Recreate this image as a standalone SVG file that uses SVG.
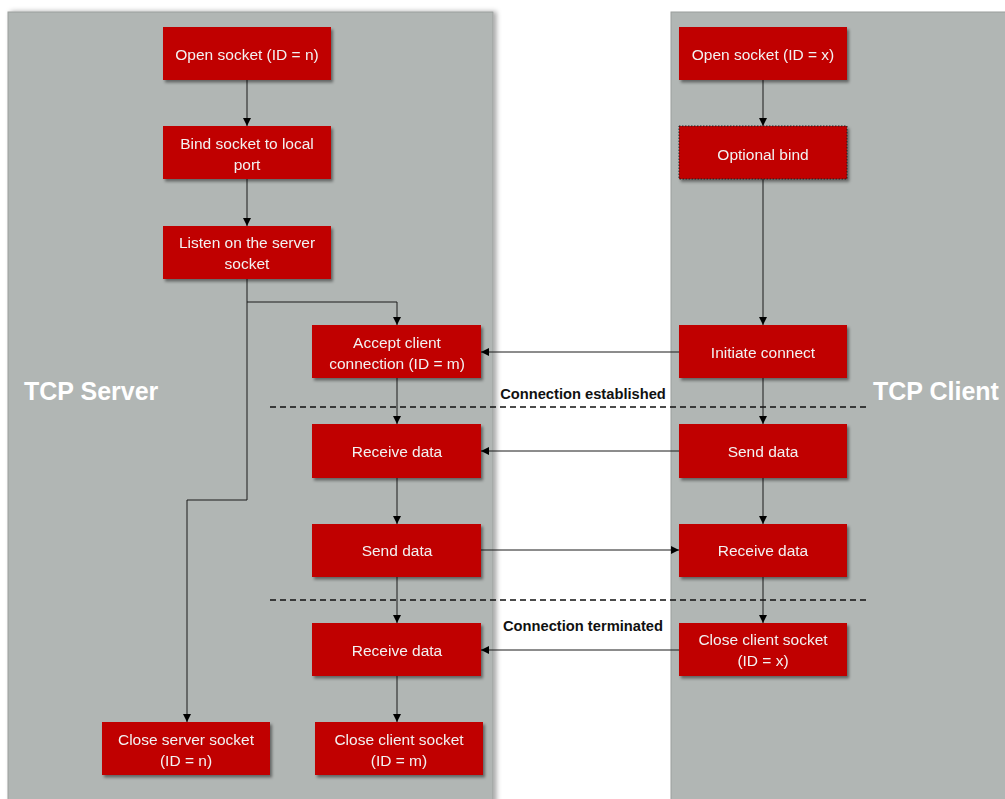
<svg xmlns="http://www.w3.org/2000/svg" width="1005" height="799" viewBox="0 0 1005 799">
  <style>
    .lane { fill: #b1b6b4; stroke: #9a9e9c; stroke-width: 1; }
    .box { fill: #c00000; }
    .opt { fill: #c00000; stroke: #222; stroke-width: 1; stroke-dasharray: 1.5 1.5; }
    .lbl { font-family: "Liberation Sans", Arial, sans-serif; font-size: 15.5px; fill: #f2f2f2; text-anchor: middle; }
    .lane-title { font-family: "Liberation Sans", Arial, sans-serif; font-size: 25px; font-weight: bold; fill: #ffffff; }
    .note { font-family: "Liberation Sans", Arial, sans-serif; font-size: 14.7px; font-weight: bold; fill: #111; text-anchor: middle; }
    .edge { fill: none; stroke: #1a1a1a; stroke-width: 1; }
    .sep { fill: none; stroke: #111; stroke-width: 1.5; stroke-dasharray: 6 4; }
  </style>
  <defs>
    <filter id="shadow" x="-10%" y="-10%" width="130%" height="140%">
      <feDropShadow dx="2" dy="2.5" stdDeviation="1.5" flood-color="#000" flood-opacity="0.45"/>
    </filter>
    <filter id="laneShadow" x="-5%" y="-5%" width="110%" height="110%">
      <feDropShadow dx="3" dy="0" stdDeviation="2.5" flood-color="#000" flood-opacity="0.35"/>
    </filter>
    <marker id="arrow" viewBox="0 0 10 10" refX="10" refY="5" markerWidth="8" markerHeight="8" markerUnits="userSpaceOnUse" orient="auto">
      <path d="M0,0 L10,5 L0,10 z" fill="#000"/>
    </marker>
  </defs>

  <rect width="1005" height="799" fill="#ffffff"/>

  <!-- swimlanes -->
  <g id="lane-server">
    <rect class="lane" x="8" y="12" width="485" height="800" filter="url(#laneShadow)"/>
    <text class="lane-title" x="24" y="400">TCP Server</text>
  </g>
  <g id="lane-client">
    <rect class="lane" x="671" y="12" width="340" height="800"/>
    <text class="lane-title" x="873" y="400">TCP Client</text>
  </g>

  <!-- phase separators -->
  <g id="separators">
    <line class="sep" x1="270" y1="407" x2="866" y2="407"/>
    <text class="note" x="583" y="399">Connection established</text>
    <line class="sep" x1="270" y1="600" x2="866" y2="600"/>
    <text class="note" x="583" y="631">Connection terminated</text>
  </g>

  <!-- connectors -->
  <g id="connectors">
    <line class="edge" x1="247" y1="80" x2="247" y2="126" marker-end="url(#arrow)"/>
    <line class="edge" x1="247" y1="179" x2="247" y2="226" marker-end="url(#arrow)"/>
    <polyline class="edge" points="247,279 247,302 397,302 397,325" marker-end="url(#arrow)"/>
    <polyline class="edge" points="247,302 247,500 187,500 187,722" marker-end="url(#arrow)"/>
    <line class="edge" x1="397" y1="378" x2="397" y2="424" marker-end="url(#arrow)"/>
    <line class="edge" x1="397" y1="478" x2="397" y2="524" marker-end="url(#arrow)"/>
    <line class="edge" x1="397" y1="577" x2="397" y2="623" marker-end="url(#arrow)"/>
    <line class="edge" x1="397" y1="676" x2="397" y2="722" marker-end="url(#arrow)"/>

    <line class="edge" x1="763" y1="80" x2="763" y2="126" marker-end="url(#arrow)"/>
    <line class="edge" x1="763" y1="179" x2="763" y2="325" marker-end="url(#arrow)"/>
    <line class="edge" x1="763" y1="378" x2="763" y2="424" marker-end="url(#arrow)"/>
    <line class="edge" x1="763" y1="478" x2="763" y2="524" marker-end="url(#arrow)"/>
    <line class="edge" x1="763" y1="577" x2="763" y2="623" marker-end="url(#arrow)"/>

    <line class="edge" x1="679" y1="352" x2="481" y2="352" marker-end="url(#arrow)"/>
    <line class="edge" x1="679" y1="451" x2="481" y2="451" marker-end="url(#arrow)"/>
    <line class="edge" x1="481" y1="550" x2="679" y2="550" marker-end="url(#arrow)"/>
    <line class="edge" x1="679" y1="650" x2="481" y2="650" marker-end="url(#arrow)"/>
  </g>

  <!-- server nodes -->
  <g id="srv-open" filter="url(#shadow)">
    <rect class="box" x="163" y="27" width="168" height="53"/>
    <text class="lbl" x="247" y="60">Open socket (ID = n)</text>
  </g>
  <g id="srv-bind" filter="url(#shadow)">
    <rect class="box" x="163" y="126" width="168" height="53"/>
    <text class="lbl" x="247" y="149">Bind socket to local</text>
    <text class="lbl" x="247" y="170">port</text>
  </g>
  <g id="srv-listen" filter="url(#shadow)">
    <rect class="box" x="163" y="226" width="168" height="53"/>
    <text class="lbl" x="247" y="248">Listen on the server</text>
    <text class="lbl" x="247" y="269">socket</text>
  </g>
  <g id="srv-accept" filter="url(#shadow)">
    <rect class="box" x="312" y="325" width="169" height="53"/>
    <text class="lbl" x="397" y="348">Accept client</text>
    <text class="lbl" x="397" y="369">connection (ID = m)</text>
  </g>
  <g id="srv-recv1" filter="url(#shadow)">
    <rect class="box" x="312" y="424" width="169" height="54"/>
    <text class="lbl" x="397" y="457">Receive data</text>
  </g>
  <g id="srv-send" filter="url(#shadow)">
    <rect class="box" x="312" y="524" width="169" height="53"/>
    <text class="lbl" x="397" y="556">Send data</text>
  </g>
  <g id="srv-recv2" filter="url(#shadow)">
    <rect class="box" x="312" y="623" width="169" height="53"/>
    <text class="lbl" x="397" y="656">Receive data</text>
  </g>
  <g id="srv-close-client" filter="url(#shadow)">
    <rect class="box" x="315" y="722" width="168" height="53"/>
    <text class="lbl" x="399" y="745">Close client socket</text>
    <text class="lbl" x="399" y="766">(ID = m)</text>
  </g>
  <g id="srv-close-server" filter="url(#shadow)">
    <rect class="box" x="102" y="722" width="168" height="53"/>
    <text class="lbl" x="186" y="745">Close server socket</text>
    <text class="lbl" x="186" y="766">(ID = n)</text>
  </g>

  <!-- client nodes -->
  <g id="cli-open" filter="url(#shadow)">
    <rect class="box" x="679" y="27" width="168" height="53"/>
    <text class="lbl" x="763" y="60">Open socket (ID = x)</text>
  </g>
  <g id="cli-bind" filter="url(#shadow)">
    <rect class="opt" x="679" y="126" width="168" height="53"/>
    <text class="lbl" x="763" y="160">Optional bind</text>
  </g>
  <g id="cli-connect" filter="url(#shadow)">
    <rect class="box" x="679" y="325" width="168" height="53"/>
    <text class="lbl" x="763" y="358">Initiate connect</text>
  </g>
  <g id="cli-send" filter="url(#shadow)">
    <rect class="box" x="679" y="424" width="168" height="54"/>
    <text class="lbl" x="763" y="457">Send data</text>
  </g>
  <g id="cli-recv" filter="url(#shadow)">
    <rect class="box" x="679" y="524" width="168" height="53"/>
    <text class="lbl" x="763" y="556">Receive data</text>
  </g>
  <g id="cli-close" filter="url(#shadow)">
    <rect class="box" x="679" y="623" width="168" height="53"/>
    <text class="lbl" x="763" y="645">Close client socket</text>
    <text class="lbl" x="763" y="666">(ID = x)</text>
  </g>
</svg>
